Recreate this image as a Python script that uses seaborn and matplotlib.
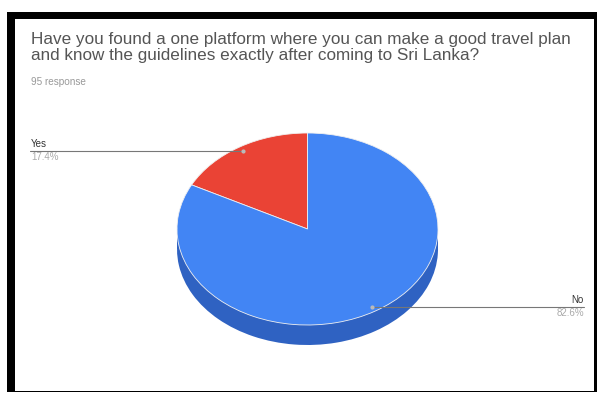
import matplotlib
matplotlib.use("Agg")
import matplotlib.pyplot as plt
import seaborn as sns
import numpy as np
from matplotlib.patches import Rectangle

sns.set_theme(style="white")
plt.rcParams['font.family'] = ['Liberation Sans', 'DejaVu Sans']

categories = ["Yes", "No"]
percent = [17.4, 82.6]
colors = ["#EA4335", "#4285F4"]
side_color = "#2F62C2"
title = "Have you found a one platform where you can make a good travel plan\nand know the guidelines exactly after coming to Sri Lanka?"
subtitle = "95 response"

W, H = 600, 393
fig = plt.figure(figsize=(W / 100, H / 100), dpi=100)
fig.patch.set_facecolor("white")

def fx(x):
    return x / W

def fy(y):
    return 1 - y / H

# frame
fig.add_artist(Rectangle((fx(7), fy(392)), fx(597 - 7), (392 - 12) / H,
                         transform=fig.transFigure, facecolor="black", edgecolor="none", zorder=0))
fig.add_artist(Rectangle((fx(15), fy(390.5)), fx(594 - 15), (390.5 - 19) / H,
                         transform=fig.transFigure, facecolor="white", edgecolor="none", zorder=0))

# pie axes: full figure, data units scaled so that the pie is an ellipse
cx, cy = 307.5, 229.0
rx, ry = 130.5, 96.0
depth = 20.0 / ry
ax = fig.add_axes([0, 0, 1, 1])
ax.set_facecolor("none")

ax.fill_between([-1, 1], -depth, 0, color=side_color, lw=0, zorder=1)
ax.pie(percent, colors=[side_color, side_color], startangle=90, counterclock=True,
       center=(0, -depth), radius=1, wedgeprops=dict(linewidth=0))
wedges, _ = ax.pie(percent, colors=colors, startangle=90, counterclock=True,
                   center=(0, 0), radius=1,
                   wedgeprops=dict(linewidth=0.6, edgecolor="#f0f0f0"))
for w in wedges:
    w.set_zorder(3)
ax.set_aspect("auto")
ax.set_xlim(-cx / rx, (W - cx) / rx)
ax.set_ylim(-(H - cy) / ry, cy / ry)
ax.axis("off")

# leader lines and labels
cum = np.cumsum([0] + percent)
for i, (cat, p) in enumerate(zip(categories, percent)):
    mid = np.deg2rad(90 + 3.6 * (cum[i] + p / 2))
    dx, dy = 0.95 * np.cos(mid), 0.95 * np.sin(mid)
    if dx < 0:
        xend = (30 - cx) / rx
        xt, ha = 31, "left"
    else:
        xend = (584 - cx) / rx
        xt, ha = 584, "right"
    ax.plot([dx, xend], [dy, dy], color="#777777", lw=0.8, zorder=4, clip_on=False)
    ax.plot([dx], [dy], marker="o", ms=2, color="#bbbbbb", zorder=5)
    ypix = cy - dy * ry
    fig.text(fx(xt), fy(ypix - 2), cat, ha=ha, va="bottom", fontsize=7, color="#333333")
    fig.text(fx(xt), fy(ypix + 1), f"{p}%", ha=ha, va="top", fontsize=7, color="#aaaaaa")

fig.text(fx(31), fy(32), title, ha="left", va="top", fontsize=12.3, color="#555555", linespacing=1.08)
fig.text(fx(31), fy(77), subtitle, ha="left", va="top", fontsize=7.2, color="#999999")

fig.savefig("out.png", dpi=100, facecolor="white")
